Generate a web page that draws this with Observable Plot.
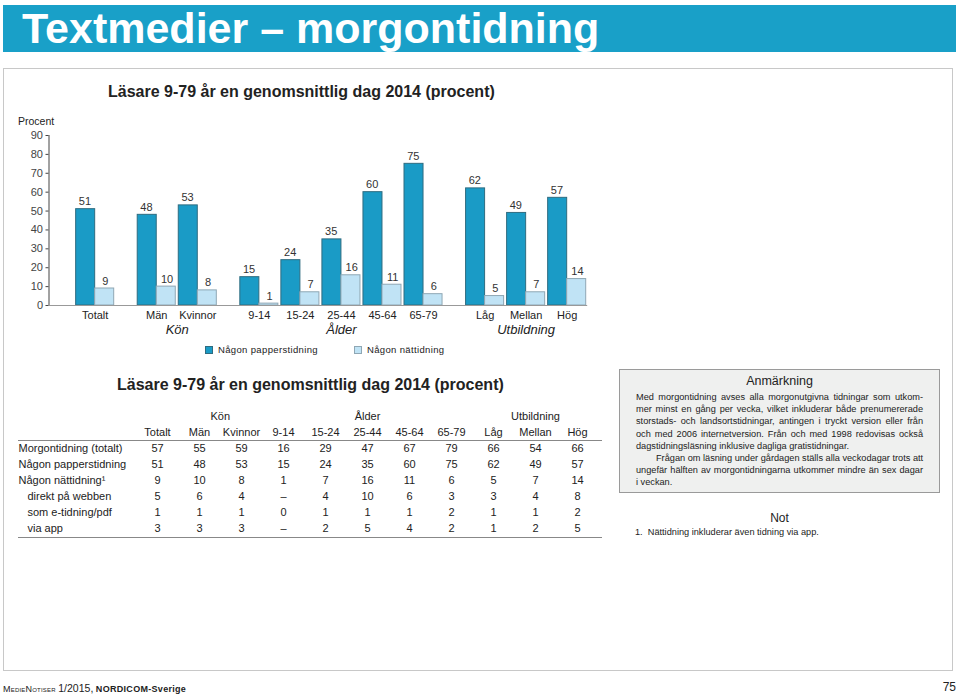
<!DOCTYPE html>
<html><head><meta charset="utf-8">
<script src="https://cdn.jsdelivr.net/npm/d3@7"></script>
<script src="https://cdn.jsdelivr.net/npm/@observablehq/plot@0.6"></script>
<style>
body{margin:0;width:959px;height:695px;position:relative;background:#fff;font-family:"Liberation Sans",Arial,sans-serif;color:#222;overflow:hidden}
.abs{position:absolute}
#bar{left:3px;top:5px;width:953px;height:47px;background:#19a0c8}
#bar span{position:absolute;left:19px;top:0px;font-size:43px;font-weight:bold;color:#fff;line-height:46px;white-space:nowrap}
#frame{left:3px;top:68px;width:948px;height:601px;border:1.5px solid #c8c8c8}
.ttl{font-size:16px;font-weight:bold;color:#222;white-space:nowrap}
#procent{left:18px;top:115px;font-size:10.5px;color:#222}
#chart{left:0;top:120px}
#legend{left:205px;top:344px;font-size:9.5px;letter-spacing:0.35px;color:#222;white-space:nowrap}
#legend .it{position:absolute;top:0;white-space:nowrap}
#legend i{display:inline-block;width:8px;height:8px;vertical-align:-1px;margin-right:5px;box-sizing:border-box}
#table{left:0;top:405px}
#note{left:619px;top:369px;width:321px;height:124px;box-sizing:border-box;background:#eff0ef;border:1px solid #9a9a9a;padding:4px 16px 0 16px;font-size:9.2px;line-height:12.2px;color:#222}
#note h4{margin:0 0 2px 0;text-align:center;font-weight:normal;font-size:12.5px;line-height:15px}
#note .l{text-align:justify;text-align-last:justify;white-space:nowrap;overflow:visible}
#note .l.e{text-align-last:left}
#not{left:619px;top:511px;width:321px;text-align:center;font-size:12px}
#fn{left:635px;top:527px;font-size:9.2px;white-space:nowrap}
#foot{left:3px;top:682px;font-size:9px;white-space:nowrap;color:#222}
#pg{left:930px;top:680px;width:26px;text-align:right;font-size:12px;color:#222}
</style></head>
<body>
<div id="bar" class="abs"><span>Textmedier – morgontidning</span></div>
<div id="frame" class="abs"></div>
<div class="abs ttl" style="left:108px;top:83px">Läsare 9-79 år en genomsnittlig dag 2014 (procent)</div>
<div id="procent" class="abs">Procent</div>
<div id="chart" class="abs"></div>
<div id="legend" class="abs"></div>
<div class="abs ttl" style="left:117px;top:376px">Läsare 9-79 år en genomsnittlig dag 2014 (procent)</div>
<div id="table" class="abs"></div>
<div id="note" class="abs">
<h4>Anmärkning</h4>
<div class="l">Med morgontidning avses alla morgonutgivna tidningar som utkom-</div>
<div class="l">mer minst en gång per vecka, vilket inkluderar både prenumererade</div>
<div class="l">storstads- och landsortstidningar, antingen i tryckt version eller från</div>
<div class="l">och med 2006 internetversion. Från och med 1998 redovisas också</div>
<div class="l e">dagstidningsläsning inklusive dagliga gratistidningar.</div>
<div class="l" style="padding-left:20px">Frågan om läsning under gårdagen ställs alla veckodagar trots att</div>
<div class="l">ungefär hälften av morgontidningarna utkommer mindre än sex dagar</div>
<div class="l e">i veckan.</div>
</div>
<div id="not" class="abs">Not</div>
<div id="fn" class="abs">1.&nbsp; Nättidning inkluderar även tidning via app.</div>
<div id="foot" class="abs"><span style="font-variant:small-caps;letter-spacing:0.2px">MedieNotiser</span> <span style="font-size:10.5px">1/2015,</span> <b style="letter-spacing:0.3px">NORDICOM-Sverige</b></div>
<div id="pg" class="abs">75</div>
<script>
// ---------- data ----------
const categories = ["Totalt","Män","Kvinnor","9-14","15-24","25-44","45-64","65-79","Låg","Mellan","Hög"];
const groups = ["","Kön","Kön","Ålder","Ålder","Ålder","Ålder","Ålder","Utbildning","Utbildning","Utbildning"];
const seriesNames = ["Någon papperstidning","Någon nättidning"];
const papper = [51,48,53,15,24,35,60,75,62,49,57];
const natt = [9,10,8,1,7,16,11,6,5,7,14];
const yTicks = [0,10,20,30,40,50,60,70,80,90];

const rowLabels = ["Morgontidning (totalt)","Någon papperstidning","Någon nättidning¹","direkt på webben","som e-tidning/pdf","via app"];
const morgon = [57,55,59,16,29,47,67,79,66,54,66];
const webben = [5,6,4,null,4,10,6,3,3,4,8];
const etidning = [1,1,1,0,1,1,1,2,1,1,2];
const app = [3,3,3,null,2,5,4,2,1,2,5];

// ---------- styles ----------
const fills = ["#1a9bc6","#c0e3f5"];
const strokes = ["#2f6c80","#8fa7b4"];
const font = "Liberation Sans, Arial, sans-serif";

// ---------- chart ----------
const keys = [], bars = [], cats = [];
categories.forEach((c,i) => {
  if (i > 0 && groups[i] !== groups[i-1]) keys.push("gap" + i);
  const kp = c + "|p", kn = c + "|n";
  keys.push(kp, kn);
  bars.push({key:kp, value:papper[i], s:0}, {key:kn, value:natt[i], s:1});
  cats.push({key:kp, label:c, group:groups[i]});
});
const W = 600, H = 222, mL = 48.5, mR = W - 587.2, pOuter = 0.625;
const step = (W - mL - mR) / (keys.length + 2 * pOuter);
// group labels: centre of each group's bars
const glabs = [];
[...new Set(groups)].filter(g => g).forEach(g => {
  const members = cats.filter(d => d.group === g);
  const n = members.length;
  if (n % 2 === 0) glabs.push({key: members[n/2].key, label: g, dx: -step/2});
  else glabs.push({key: members[(n-1)/2].key, label: g, dx: step/2});
});

const chart = Plot.plot({
  width: W, height: H,
  marginLeft: mL, marginRight: mR, marginTop: 15, marginBottom: 37,
  style: {fontFamily: font, fontSize: "11px", color: "#444", background: "transparent", overflow: "visible"},
  x: {type: "band", domain: keys, paddingInner: 0, paddingOuter: pOuter, align: 1, round: false, axis: null},
  y: {domain: [0, 90], ticks: yTicks, tickSize: 3, tickPadding: 3, label: null, line: true, round: false},
  marks: [
    Plot.barY(bars.filter(d => d.s === 0), {x: "key", y: "value", fill: fills[0], stroke: strokes[0], strokeWidth: 1, insetLeft: 1.5, insetRight: 0}),
    Plot.barY(bars.filter(d => d.s === 1), {x: "key", y: "value", fill: fills[1], stroke: strokes[1], strokeWidth: 1, insetLeft: 0, insetRight: 1.5}),
    Plot.ruleY([0], {stroke: "#999", strokeWidth: 1}),
    Plot.text(bars, {x: "key", y: "value", text: d => String(d.value), lineAnchor: "bottom", dy: -4, fontSize: 11, fill: "#333"}),
    Plot.text(cats, {x: "key", y: () => 0, text: "label", lineAnchor: "top", dy: 6, dx: step/2, fontSize: 11, fill: "#222"}),
    ...glabs.map(g => Plot.text([g], {x: "key", y: () => 0, text: "label", lineAnchor: "top", dy: 19, dx: g.dx, fontSize: 13, fontStyle: "italic", fill: "#222"}))
  ]
});
document.getElementById("chart").appendChild(chart);

// legend
const leg = document.getElementById("legend");
seriesNames.forEach((s, i) => {
  const d = document.createElement("div");
  d.className = "it";
  d.style.left = (i * 149) + "px";
  d.innerHTML = `<i style="background:${fills[i]};border:1px solid ${strokes[i]}"></i>${s}`;
  leg.appendChild(d);
});

// ---------- table ----------
const tableRows = [morgon, papper, natt, webben, etidning, app];
const yKeys = ["grp", "hdr", ...rowLabels];
const cells = rowLabels.flatMap((r, ri) => categories.map((c, ci) => ({row: r, col: c, v: tableRows[ri][ci]})));
const colStep = (579 - 155) / (categories.length - 1);
const tglabs = glabs.map(g => ({col: g.key.split("|")[0], label: g.label, dx: g.dx < 0 ? -colStep/2 : 0}));

const table = Plot.plot({
  width: 610, height: 140,
  marginLeft: 18, marginRight: 8, marginTop: 0, marginBottom: 0,
  style: {fontFamily: font, fontSize: "11px", color: "#222", background: "transparent", overflow: "visible"},
  x: {type: "point", domain: categories, range: [155, 579], padding: 0, axis: null},
  y: {type: "point", domain: yKeys, range: [11, 123], padding: 0, axis: null},
  marks: [
    Plot.ruleY([rowLabels[0]], {dy: -8, stroke: "#888", strokeWidth: 1}),
    Plot.ruleY([rowLabels[rowLabels.length - 1]], {dy: 9, stroke: "#888", strokeWidth: 1}),
    Plot.text(categories, {x: d => d, y: () => "hdr", text: d => d, fontSize: 11, fill: "#222"}),
    ...tglabs.map(g => Plot.text([g], {x: "col", y: () => "grp", text: "label", dx: g.dx, fontSize: 11, fill: "#222"})),
    Plot.text(rowLabels.slice(0, 3), {y: d => d, text: d => d, frameAnchor: "left", textAnchor: "start", fontSize: 11, fill: "#222"}),
    Plot.text(rowLabels.slice(3), {y: d => d, text: d => d, frameAnchor: "left", textAnchor: "start", dx: 9, fontSize: 11, fill: "#222"}),
    Plot.text(cells, {x: "col", y: "row", text: d => d.v == null ? "–" : String(d.v), fontSize: 11, fill: "#222"})
  ]
});
document.getElementById("table").appendChild(table);
</script>
</body></html>
